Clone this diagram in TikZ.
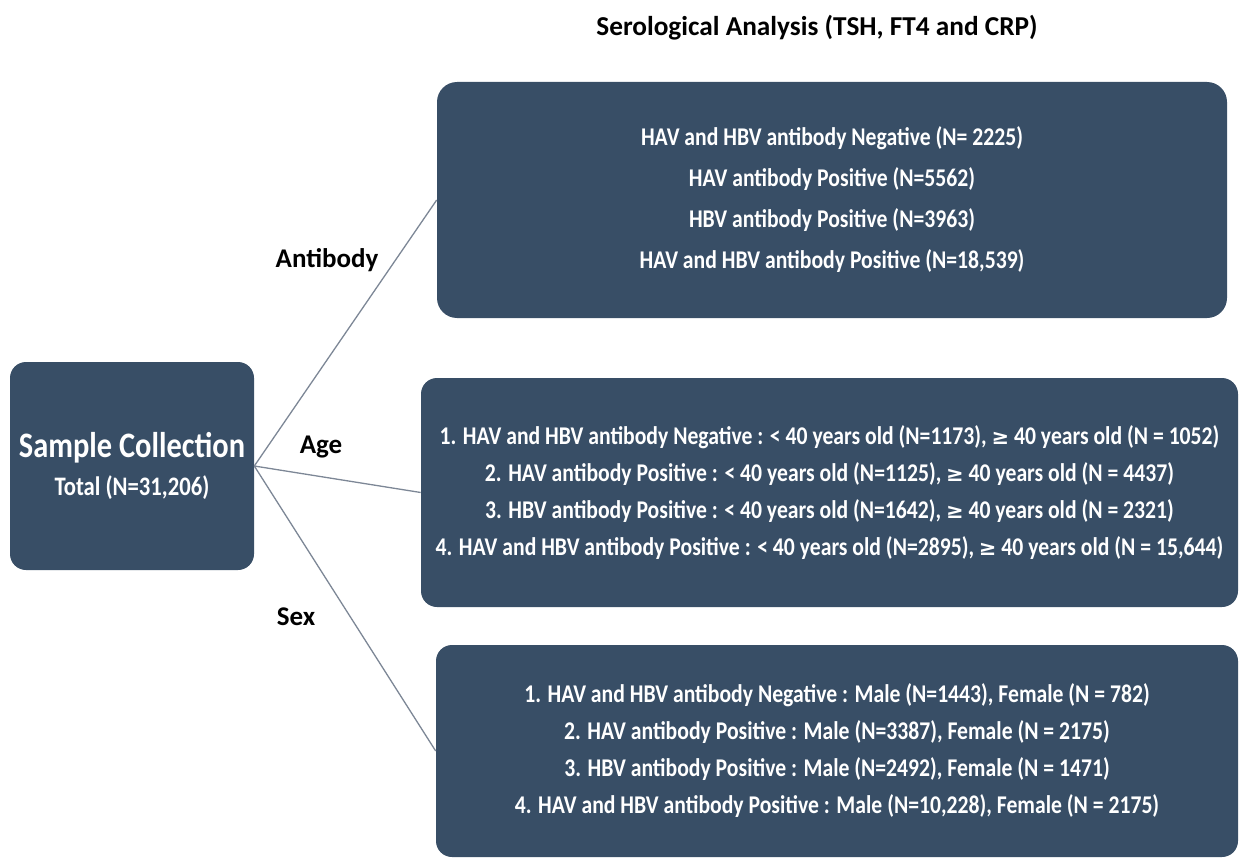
\documentclass[tikz,border=0pt]{standalone}
\usepackage{fontspec}
\setmainfont{Carlito}
\newfontfamily\boxfont[FakeStretch=0.85]{Carlito}
\newfontfamily\geqfont{DejaVu Sans}
\newcommand{\geqsign}{{\geqfont\fontsize{21}{25}\selectfont ≥}}
\definecolor{slate}{HTML}{384E66}
\definecolor{linegray}{HTML}{7D8796}

\begin{document}
\begin{tikzpicture}[x=1pt,y=-1pt,semithick]
	\tikzstyle{group}=[fill=slate,rounded corners=16pt,text=white,align=center,inner sep=0pt,font=\boxfont\bfseries\fontsize{25.5}{37}\selectfont]
	\tikzstyle{branch}=[font=\bfseries\fontsize{27}{30}\selectfont]
	\tikzstyle{link}=[draw=linegray,line width=1.3pt]

	\useasboundingbox (0,0) rectangle (1240,859);
	\clip (0,0) rectangle (1240,859);

	\node[font=\bfseries\fontsize{27.3}{30}\selectfont] (title) at (817,28) {Serological Analysis (TSH, FT4 and CRP)};

	\node[group,minimum width=244pt,minimum height=208pt] (sample) at (132,466)
		{{\fontsize{35.8}{40}\selectfont Sample Collection}\\[1pt]{\fontsize{26.7}{30}\selectfont Total (N=31,206)}};

	\node[group,minimum width=790pt,minimum height=236pt,rounded corners=20pt,font=\boxfont\bfseries\fontsize{25.5}{41}\selectfont] (antibody) at (832,200)
		{HAV and HBV antibody Negative (N= 2225)\\
		 HAV antibody Positive (N=5562)\\
		 HBV antibody Positive (N=3963)\\
		 HAV and HBV antibody Positive (N=18,539)};
	\node[group,minimum width=817pt,minimum height=229pt] (age) at (829.5,492.5)
		{1. HAV and HBV antibody Negative : < 40 years old (N=1173), \geqsign{} 40 years old (N = 1052)\\
		 2. HAV antibody Positive : < 40 years old (N=1125), \geqsign{} 40 years old (N = 4437)\\
		 3. HBV antibody Positive : < 40 years old (N=1642), \geqsign{} 40 years old (N = 2321)\\
		 4. HAV and HBV antibody Positive : < 40 years old (N=2895), \geqsign{} 40 years old (N = 15,644)};
	\node[group,minimum width=802pt,minimum height=212pt] (sex) at (837,751)
		{1. HAV and HBV antibody Negative : Male (N=1443), Female (N = 782)\\
		 2. HAV antibody Positive : Male (N=3387), Female (N = 2175)\\
		 3. HBV antibody Positive : Male (N=2492), Female (N = 1471)\\
		 4. HAV and HBV antibody Positive : Male (N=10,228), Female (N = 2175)};

	\node[branch] (lab1) at (327,260) {Antibody};
	\node[branch] (lab2) at (321,447) {Age};
	\node[branch] (lab3) at (296,617) {Sex};

	\path[link] (sample.east) -- (antibody.west);
	\path[link] (sample.east) -- (age.west);
	\path[link] (sample.east) -- (sex.west);
\end{tikzpicture}
\end{document}
